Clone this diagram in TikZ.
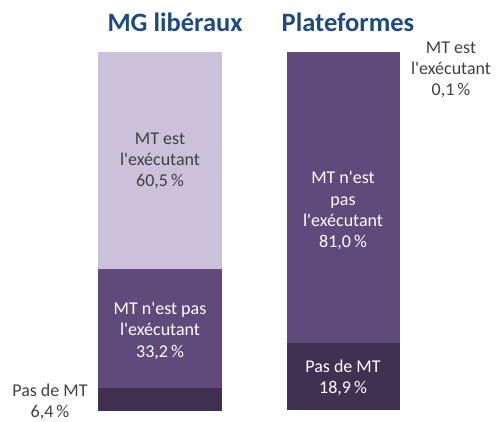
\documentclass[tikz,border=0pt]{standalone}
\usepackage{fontspec}
\setmainfont{Carlito}
\definecolor{light}{HTML}{CCC1DA}
\definecolor{mid}{HTML}{5F4A7B}
\definecolor{dark}{HTML}{403152}
\definecolor{ttl}{HTML}{1F4A80}
\definecolor{txt}{HTML}{404040}
\newcommand{\ap}{\textquotesingle}
\begin{document}
\begin{tikzpicture}[x=1pt,y=-1pt,
  lbl/.style={align=center,font=\fontsize{18}{21.3}\selectfont,inner sep=0pt},
  title/.style={font=\fontsize{26.5}{28}\selectfont\bfseries,text=ttl,inner sep=0pt}]
\useasboundingbox (0,0) rectangle (500,421);
% left bar
\fill[light] (98,52) rectangle (222,269);
\fill[mid] (98,269) rectangle (222,388);
\fill[dark] (98,388) rectangle (222,411);
% right bar
\fill[mid] (287,52) rectangle (400,343);
\fill[dark] (287,343) rectangle (400,410);
% titles
\node[title] (t1) at (175,22) {MG libéraux};
\node[title] (t2) at (348,22) {Plateformes};
% labels
\node[lbl,text=txt] (a1) at (160,161) {MT est\\l\ap exécutant\\60,5\,\%};
\node[lbl,text=white] (a2) at (160,331) {MT n\ap est pas\\l\ap exécutant\\33,2\,\%};
\node[lbl,text=txt] (a3) at (50,402) {Pas de MT\\6,4\,\%};
\node[lbl,text=white] (b1) at (343,211) {MT n\ap est\\pas\\l\ap exécutant\\81,0\,\%};
\node[lbl,text=white] (b2) at (343,378) {Pas de MT\\18,9\,\%};
\node[lbl,text=txt] (b3) at (451,70) {MT est\\l\ap exécutant\\0,1\,\%};
\end{tikzpicture}
\end{document}
